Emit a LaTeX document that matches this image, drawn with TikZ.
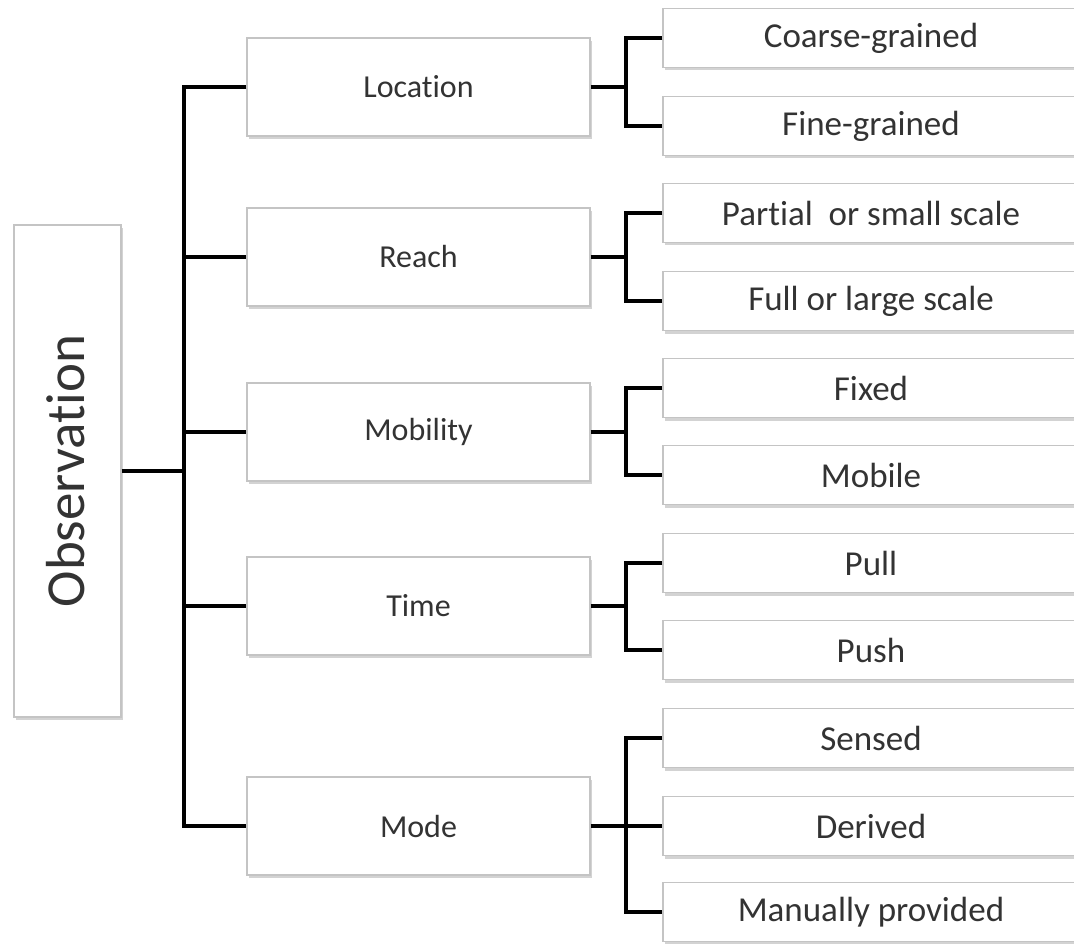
\documentclass[tikz,border=0pt]{standalone}
\usepackage{fontspec}
\setmainfont[Ligatures={NoCommon}]{Carlito}
\usetikzlibrary{shadows}
\definecolor{txt}{HTML}{333333}
\definecolor{edge}{HTML}{C4C4C4}
\tikzset{
  box/.style={draw=edge, line width=1.3pt, fill=white, inner sep=0pt,
    text=txt, anchor=center,
    drop shadow={opacity=0.35, shadow xshift=1.5pt, shadow yshift=-3pt}},
  midbox/.style={box, minimum width=343pt, minimum height=98pt, font=\fontsize{32}{36}\selectfont},
  leafbox/.style={box, minimum width=416pt, minimum height=59pt, font=\fontsize{35}{40}\selectfont},
  conn/.style={line width=4.6pt, black, line join=miter}
}
\begin{document}
\begin{tikzpicture}[x=1pt,y=-1pt]
\useasboundingbox (0,0) rectangle (1074,944);

% root
\node[box, minimum width=107pt, minimum height=492pt] (obs) at (67.5,471) {};
\node[text=txt, rotate=90, font=\fontsize{55}{60}\selectfont] (obslbl) at (66,471) {Observation};

% second level
\node[midbox] (loc) at (418.5,87)  {Location};
\node[midbox] (rea) at (418.5,257) {Reach};
\node[midbox] (mob) at (418.5,432) {Mobility};
\node[midbox] (tim) at (418.5,606) {Time};
\node[midbox] (mod) at (418.5,826) {Mode};

% leaves
\node[leafbox] (coa) at (871,38)  {Coarse-grained};
\node[leafbox] (fin) at (871,126) {Fine-grained};
\node[leafbox] (par) at (871,213) {Partial\ \ or small scale};
\node[leafbox] (ful) at (871,301) {Full or large scale};
\node[leafbox] (fix) at (871,388) {Fixed};
\node[leafbox] (mbl) at (871,475) {Mobile};
\node[leafbox] (pul) at (871,563) {Pull};
\node[leafbox] (pus) at (871,650) {Push};
\node[leafbox] (sen) at (871,738) {Sensed};
\node[leafbox] (der) at (871,826) {Derived};
\node[leafbox] (man) at (871,912) {Manually provided};

% trunk
\coordinate (tr) at (184,0);
\coordinate (br) at (626,0);
\draw[conn] (loc.west) -- (loc.west -| tr) -- (mod.west -| tr) -- (mod.west);
\draw[conn] (rea.west -| tr) -- (rea.west);
\draw[conn] (mob.west -| tr) -- (mob.west);
\draw[conn] (tim.west -| tr) -- (tim.west);
\draw[conn] (obs.east) -- (obs.east -| tr);

% branches
\foreach \m/\a/\b in {loc/coa/fin, rea/par/ful, mob/fix/mbl, tim/pul/pus, mod/sen/man}{
  \draw[conn] (\m.east) -- (\m.east -| br);
  \draw[conn] (\a.west) -- (\a.west -| br) -- (\b.west -| br) -- (\b.west);
}
\draw[conn] (der.west -| br) -- (der.west);
\end{tikzpicture}
\end{document}
